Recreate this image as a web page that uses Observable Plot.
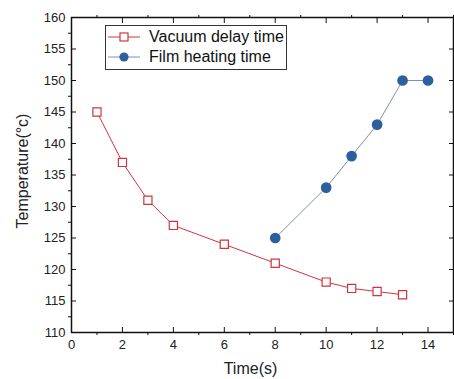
<!DOCTYPE html>
<html>
<head>
<meta charset="utf-8">
<script src="https://cdn.jsdelivr.net/npm/d3@7"></script>
<script src="https://cdn.jsdelivr.net/npm/@observablehq/plot@0.6"></script>
<style>
  html, body { margin: 0; padding: 0; background: #fff; }
  #wrap { position: relative; width: 454px; height: 379px; font-family: "Liberation Sans", Arial, sans-serif; }
  #legend { position: absolute; left: 105px; top: 25px; width: 180px; height: 43px; border: 1px solid #333; background: #fff; }
  #legend .row { position: absolute; left: 0; height: 20px; display: flex; align-items: center; font-size: 16px; color: #111; }
</style>
</head>
<body>
<div id="wrap"></div>
<script>
// Data
const vacuumTime = [1, 2, 3, 4, 6, 8, 10, 11, 12, 13];
const vacuumTemp = [145, 137, 131, 127, 124, 121, 118, 117, 116.5, 116];
const filmTime = [8, 10, 11, 12, 13, 14];
const filmTemp = [125, 133, 138, 143, 150, 150];
const seriesNames = ["Vacuum delay time", "Film heating time"];
const xMajorTicks = [0, 2, 4, 6, 8, 10, 12, 14];
const xMinorTicks = [1, 3, 5, 7, 9, 11, 13, 15];
const yMajorTicks = [110, 115, 120, 125, 130, 135, 140, 145, 150, 155, 160];
const yMinorTicks = [112.5, 117.5, 122.5, 127.5, 132.5, 137.5, 142.5, 147.5, 152.5, 157.5];
const xLabel = "Time(s)";
const yLabel = "Temperature(°c)";

const redColor = "#d0343f";
const blueColor = "#2b5f9e";
const blueLine = "#7f93ab";

const vacuum = vacuumTime.map((t, i) => ({x: t, y: vacuumTemp[i]}));
const film = filmTime.map((t, i) => ({x: t, y: filmTemp[i]}));

const chart = Plot.plot({
  width: 454,
  height: 379,
  marginLeft: 71,
  marginRight: 1,
  marginTop: 17,
  marginBottom: 47,
  style: {fontFamily: "'Liberation Sans', Arial, sans-serif", fontSize: "13px", color: "#222", background: "#fff"},
  x: {domain: [0, 15]},
  y: {domain: [110, 160]},
  marks: [
    Plot.line(vacuum, {x: "x", y: "y", stroke: redColor, strokeWidth: 1}),
    Plot.dot(vacuum, {x: "x", y: "y", symbol: "square", r: 4.6, stroke: redColor, fill: "#fff", strokeWidth: 1.2}),
    Plot.line(film, {x: "x", y: "y", stroke: blueLine, strokeWidth: 1}),
    Plot.dot(film, {x: "x", y: "y", r: 4.6, fill: blueColor, stroke: blueColor}),
    // bottom axis
    Plot.axisX({ticks: xMajorTicks, tickSize: -5, tickPadding: 12, tickFormat: d3.format("d"), label: null, stroke: "#111", fill: "#222", fontSize: 13}),
    Plot.axisX({ticks: xMinorTicks, tickSize: 3, text: null, label: null, stroke: "#111"}),
    // top axis
    Plot.axisX({anchor: "top", ticks: xMajorTicks, tickSize: -5, text: null, label: null, stroke: "#111"}),
    Plot.axisX({anchor: "top", ticks: xMinorTicks, tickSize: 3, text: null, label: null, stroke: "#111"}),
    // left axis
    Plot.axisY({ticks: yMajorTicks, tickSize: -5, tickPadding: 11, tickFormat: d3.format("d"), label: null, stroke: "#111", fill: "#222", fontSize: 13}),
    Plot.axisY({ticks: yMinorTicks, tickSize: 3, text: null, label: null, stroke: "#111"}),
    // right axis
    Plot.axisY({anchor: "right", ticks: yMajorTicks, tickSize: -5, text: null, label: null, stroke: "#111"}),
    Plot.axisY({anchor: "right", ticks: yMinorTicks, tickSize: 3, text: null, label: null, stroke: "#111"}),
    Plot.frame({stroke: "#111", strokeWidth: 1.5}),
    // axis titles
    Plot.text([xLabel], {frameAnchor: "bottom", text: d => d, dy: 41, dx: -12, fontSize: 16, fill: "#222"}),
    Plot.text([yLabel], {frameAnchor: "left", textAnchor: "middle", text: d => d, rotate: -90, dx: -49, dy: -4, fontSize: 16, fill: "#222"})
  ]
});
document.getElementById("wrap").appendChild(chart);

// legend
const legend = document.createElement("div");
legend.id = "legend";
const symbols = [
  `<svg width="38" height="20"><line x1="2" y1="10" x2="34" y2="10" stroke="${redColor}" stroke-width="1"/><rect x="14" y="6" width="8" height="8" fill="#fff" stroke="${redColor}" stroke-width="1.2"/></svg>`,
  `<svg width="38" height="20"><line x1="2" y1="10" x2="34" y2="10" stroke="${blueLine}" stroke-width="1"/><circle cx="18" cy="10" r="4.6" fill="${blueColor}"/></svg>`
];
seriesNames.forEach((name, i) => {
  const row = document.createElement("div");
  row.className = "row";
  row.style.top = (1 + i * 20) + "px";
  row.innerHTML = symbols[i] + `<span style="margin-left:5px">${name}</span>`;
  legend.appendChild(row);
});
document.getElementById("wrap").appendChild(legend);
</script>
</body>
</html>
